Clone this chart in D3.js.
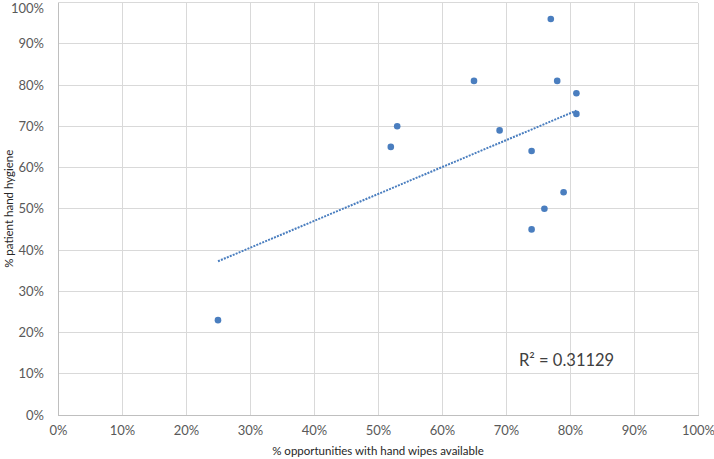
<!DOCTYPE html>
<html><head><meta charset="utf-8">
<script src="https://cdn.jsdelivr.net/npm/d3@7"></script>
<style>body{margin:0;background:#fff;} svg{display:block;}</style>
</head><body>
<svg id="c" width="714" height="459"></svg>
<script>
const xValues = [25,52,53,65,69,74,74,76,77,78,79,81,81];
const yValues = [23,65,70,81,69,64,45,50,96,81,54,78,73];
const xTicks = [0,10,20,30,40,50,60,70,80,90,100];
const yTicks = [0,10,20,30,40,50,60,70,80,90,100];
const xTitle = "% opportunities with hand wipes available";
const yTitle = "% patient hand hygiene";
const r2Label = "R² = 0.31129";

const svg = d3.select("#c");
const x = d3.scaleLinear().domain([0,100]).range([58,698]);
const y = d3.scaleLinear().domain([0,100]).range([415,2.5]);
const font = "Lato, 'Open Sans', sans-serif";

// gridlines
svg.append("g").selectAll("line.v").data(xTicks).join("line")
  .attr("x1",d=>x(d)).attr("x2",d=>x(d)).attr("y1",y(0)).attr("y2",y(100))
  .attr("stroke","#d9d9d9").attr("stroke-width",1).attr("shape-rendering","crispEdges");
svg.append("g").selectAll("line.h").data(yTicks).join("line")
  .attr("y1",d=>y(d)).attr("y2",d=>y(d)).attr("x1",x(0)).attr("x2",x(100))
  .attr("stroke","#d9d9d9").attr("stroke-width",1).attr("shape-rendering","crispEdges");

// axes (labels via d3 axes)
const xAxis = svg.append("g").attr("transform",`translate(0,${y(0)})`)
  .call(d3.axisBottom(x).tickValues(xTicks).tickFormat(d=>d+"%").tickSize(0).tickPadding(11));
const yAxis = svg.append("g").attr("transform",`translate(${x(0)},0)`)
  .call(d3.axisLeft(y).tickValues(yTicks).tickFormat(d=>d+"%").tickSize(0).tickPadding(14));
[xAxis,yAxis].forEach(a=>{
  a.select(".domain").attr("stroke","#bfbfbf").attr("shape-rendering","crispEdges");
  a.selectAll("text").attr("fill","#595959").style("font-family",font).style("font-size","13px");
});
yAxis.selectAll(".tick text").filter(d=>d===100).attr("dy","0.75em");

// trendline (least squares from data)
const n = xValues.length;
const mx = d3.mean(xValues), my = d3.mean(yValues);
let sxy=0, sxx=0;
for(let i=0;i<n;i++){ sxy+=(xValues[i]-mx)*(yValues[i]-my); sxx+=(xValues[i]-mx)**2; }
const slope = sxy/sxx, intercept = my - slope*mx;
const x0 = d3.min(xValues), x1 = d3.max(xValues);
svg.append("line")
  .attr("x1",x(x0)).attr("y1",y(intercept+slope*x0))
  .attr("x2",x(x1)).attr("y2",y(intercept+slope*x1))
  .attr("stroke","#4a7ebf").attr("stroke-width",2).attr("stroke-dasharray","2,1.2");

// points
svg.append("g").selectAll("circle").data(xValues.map((d,i)=>[d,yValues[i]])).join("circle")
  .attr("cx",d=>x(d[0])).attr("cy",d=>y(d[1])).attr("r",3.3).attr("fill","#4a7ebf");

// titles
svg.append("text").attr("x",(x(0)+x(100))/2).attr("y",455).attr("text-anchor","middle")
  .style("font-family",font).style("font-size","11.5px").attr("fill","#262626").text(xTitle);
svg.append("text").attr("transform",`translate(13,${(y(0)+y(100))/2}) rotate(-90)`).attr("text-anchor","middle")
  .style("font-family",font).style("font-size","11.5px").attr("fill","#262626").text(yTitle);

// R² label
svg.append("text").attr("x",519).attr("y",366)
  .style("font-family",font).style("font-size","16.5px").attr("fill","#404040").text(r2Label);
</script>
</body></html>
